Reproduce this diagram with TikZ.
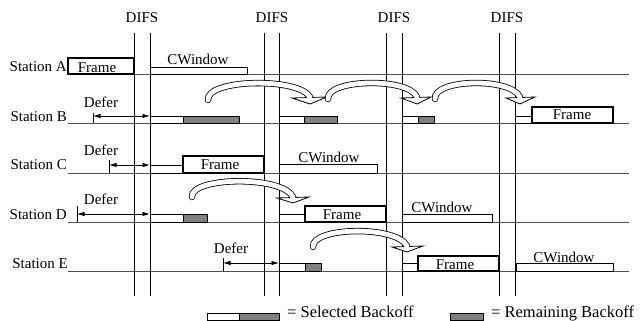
\documentclass[tikz,border=0pt]{standalone}
\usepackage{fontspec}
\setmainfont{Liberation Serif}
\usetikzlibrary{arrows.meta}
\definecolor{boff}{RGB}{128,128,128}
\definecolor{lgray}{RGB}{80,80,80}
\tikzset{
 tline/.style={line width=0.8pt, draw=lgray},
 vline/.style={line width=0.9pt, draw=black},
 framebox/.style={line width=1.3pt, draw=black, fill=white},
 cwbox/.style={line width=0.8pt, draw=black, fill=white},
 selbox/.style={line width=0.8pt, draw=black, fill=white},
 rembox/.style={line width=0.8pt, draw=black, fill=boff},
 lbl/.style={font=\fontsize{15}{17}\selectfont, inner sep=0pt},
 leg/.style={font=\fontsize{16.5}{18}\selectfont, inner sep=0pt},
 deferarrow/.style={line width=0.8pt, {Latex[length=7.5pt,width=4.5pt]}-{Latex[length=7.5pt,width=4.5pt]}},
 tick/.style={line width=0.8pt},
}
\newcommand\hollowarrow[7]{%
 \draw[line width=6.4pt, line cap=round] #1 .. controls #2 and #3 .. #4;
 \draw[line width=0.8pt, fill=white, line join=miter] #5 -- #7 -- #6 -- cycle;
 \draw[line width=4.8pt, white, line cap=round] #1 .. controls #2 and #3 .. #4;
}
\begin{document}
\begin{tikzpicture}[x=1pt,y=-1pt]
\useasboundingbox (0,0) rectangle (641,321);

% timelines
\foreach \yy/\nm in {74/A,123/B,173/C,222/D,271/E}{
  \coordinate (L\nm) at (68,\yy);
  \coordinate (R\nm) at (629,\yy);
  \draw[tline] (L\nm) -- (R\nm);
}

% vertical DIFS lines
\foreach \xx/\nm in {134/v1,150/v2,264/v3,279/v4,386/v5,402/v6,499/v7,515/v8}{
  \coordinate (\nm t) at (\xx,33);
  \coordinate (\nm b) at (\xx,296);
  \draw[vline] (\nm t) -- (\nm b);
}
\node[lbl] (difs1) at (142,18) {DIFS};
\node[lbl] (difs2) at (272,18) {DIFS};
\node[lbl] (difs3) at (394,18) {DIFS};
\node[lbl] (difs4) at (507,18) {DIFS};

% station labels
\node[lbl, anchor=east] (stA) at (67,67) {Station A};
\node[lbl, anchor=east] (stB) at (67,117) {Station B};
\node[lbl, anchor=east] (stC) at (67,165) {Station C};
\node[lbl, anchor=east] (stD) at (67,215) {Station D};
\node[lbl, anchor=east] (stE) at (68,264) {Station E};

% ---- Station A
\draw[framebox] (68,58) rectangle (134,74);
\node[lbl] (frA) at (97,68) {Frame};
\draw[cwbox] (150,67) rectangle (247,74);
\node[lbl] (cwA) at (198,59) {CWindow};

% ---- Station B
\coordinate (dBt) at (93,113); \coordinate (dBb) at (93,123);
\draw[tick] (dBt) -- (dBb);
\coordinate (dB1) at (93,116); \coordinate (dB2) at (150,116);
\draw[deferarrow] (dB1) -- (dB2);
\node[lbl] (defB) at (101,102) {Defer};
\draw[selbox] (150,116) rectangle (183,123);
\draw[rembox] (183,116) rectangle (239,123);
\draw[selbox] (279,116) rectangle (304,123);
\draw[rembox] (304,116) rectangle (337,123);
\draw[selbox] (402,116) rectangle (418,123);
\draw[rembox] (418,116) rectangle (434,123);
\draw[selbox] (515,116) rectangle (532,123);
\draw[framebox] (532,107) rectangle (613,123);
\node[lbl] (frB) at (572,115) {Frame};
\hollowarrow{(208,100)}{(206,79)}{(298,77)}{(310,97)}{(292,98)}{(327,97)}{(310,104)}
\hollowarrow{(328,99)}{(326,79)}{(408,77)}{(417,97)}{(401,98)}{(431,97)}{(417,104)}
\hollowarrow{(435,99)}{(433,79)}{(510,77)}{(520,97)}{(506,98)}{(535,97)}{(520,104)}

% ---- Station C
\coordinate (dCt) at (109,160); \coordinate (dCb) at (109,173);
\draw[tick] (dCt) -- (dCb);
\coordinate (dC1) at (109,165); \coordinate (dC2) at (150,165);
\draw[deferarrow] (dC1) -- (dC2);
\node[lbl] (defC) at (101,150) {Defer};
\draw[selbox] (150,165) rectangle (183,173);
\draw[framebox] (183,156) rectangle (264,173);
\node[lbl] (frC) at (220,165) {Frame};
\draw[cwbox] (279,164) rectangle (377,173);
\node[lbl] (cwC) at (329,157) {CWindow};

% ---- Station D
\coordinate (dDt) at (77,206); \coordinate (dDb) at (77,222);
\draw[tick] (dDt) -- (dDb);
\coordinate (dD1) at (77,214); \coordinate (dD2) at (150,214);
\draw[deferarrow] (dD1) -- (dD2);
\node[lbl] (defD) at (101,199) {Defer};
\draw[selbox] (150,214) rectangle (183,222);
\draw[rembox] (183,214) rectangle (207,222);
\hollowarrow{(192,197)}{(190,177)}{(282,175)}{(293,197)}{(277,198)}{(309,197)}{(293,203)}
\draw[selbox] (279,214) rectangle (305,222);
\draw[framebox] (305,206) rectangle (386,222);
\node[lbl] (frD) at (342,215) {Frame};
\draw[cwbox] (402,214) rectangle (492,222);
\node[lbl] (cwD) at (442,207) {CWindow};

% ---- Station E
\coordinate (dEt) at (223,258); \coordinate (dEb) at (223,271);
\draw[tick] (dEt) -- (dEb);
\coordinate (dE1) at (223,263); \coordinate (dE2) at (279,263);
\draw[deferarrow] (dE1) -- (dE2);
\node[lbl] (defE) at (231,248) {Defer};
\draw[selbox] (279,263) rectangle (305,271);
\draw[rembox] (305,263) rectangle (321,271);
\hollowarrow{(313,247)}{(311,227)}{(396,225)}{(407,246)}{(392,247)}{(423,246)}{(407,252)}
\draw[selbox] (402,263) rectangle (418,271);
\draw[framebox] (418,256) rectangle (499,271);
\node[lbl] (frE) at (455,265) {Frame};
\draw[cwbox] (516,263) rectangle (613,271);
\node[lbl] (cwE) at (564,257) {CWindow};

% ---- legend
\draw[selbox] (207,313) rectangle (239,320);
\draw[rembox] (239,313) rectangle (279,320);
\node[leg, anchor=base west] (legS) at (287,317) {= Selected Backoff};
\draw[rembox] (450,313) rectangle (483,320);
\node[leg, anchor=base west] (legR) at (491,317) {= Remaining Backoff};
\end{tikzpicture}
\end{document}
